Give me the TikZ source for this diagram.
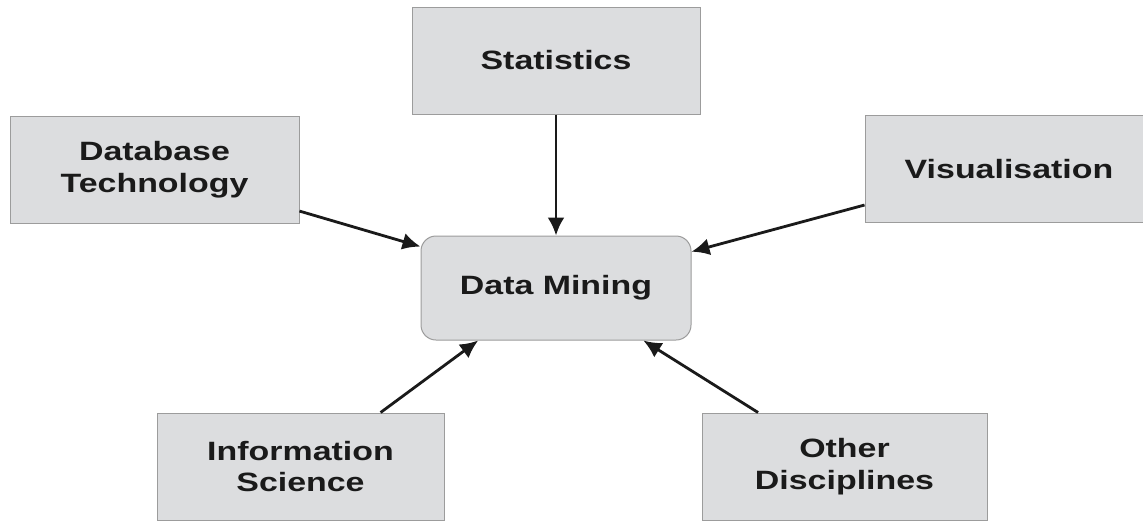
\documentclass[tikz,border=0pt]{standalone}
\usepackage{fontspec}
\setmainfont[FakeStretch=1.28]{Liberation Sans}
\usetikzlibrary{arrows.meta,positioning,calc}

\definecolor{boxfill}{HTML}{DCDDDF}
\definecolor{boxline}{HTML}{9C9C9C}
\definecolor{ink}{HTML}{1A1A1A}

\begin{document}
\begin{tikzpicture}[x=1pt, y=-1pt,
    font=\fontsize{26.5}{31.5}\selectfont\bfseries,
    area/.style={draw=boxline, line width=1pt, fill=boxfill, text=ink,
                 minimum width=288pt, minimum height=107pt, inner sep=0pt,
                 align=center},
    core/.style={area, rounded corners=15pt, minimum width=270pt,
                 minimum height=104pt}]
    \useasboundingbox (0,0) rectangle (1143,520);
    \fill[white] (0,0) rectangle (1143,520);
    \clip (0,0) rectangle (1143,520);

    \node[core] (mining) at (556,288) {Data Mining};
    \node[area] (stats) at (556,60.5) {Statistics};
    \node[area, minimum width=289pt] (dbtech) at (154.5,169.5)
      {Database\\ Technology};
    \node[area] (visual) at (1009,169) {Visualisation};
    \node[area, minimum width=287pt] (infosci) at (300.5,466.5)
      {Information\\ Science};
    \node[area, minimum width=285pt] (other) at (844.5,466.5)
      {Other\\ Disciplines};

    \path[->, >={Latex[length=18pt,width=17pt]}, line width=2.8pt, color=ink]
      (stats) edge (mining)
      (dbtech.-16.8) edge (mining.163.8)
      (visual.194.8) edge (mining.15.6)
      (infosci.34.3) edge (mining.214.8)
      (other.148.3) edge (mining.-31.1);
  \end{tikzpicture}
\end{document}
